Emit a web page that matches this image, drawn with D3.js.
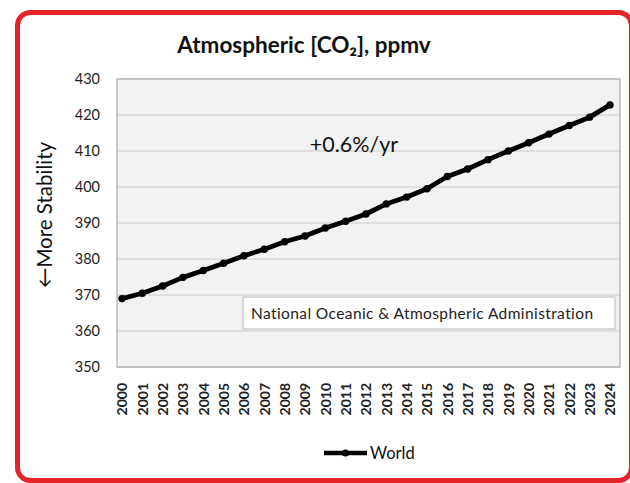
<!DOCTYPE html>
<html>
<head>
<meta charset="utf-8">
<script src="https://cdn.jsdelivr.net/npm/d3@7"></script>
<style>
  body { margin: 0; background: #fff; }
  svg { display: block; font-family: Lato, "Open Sans", sans-serif; }
</style>
</head>
<body>
<svg width="630" height="483"></svg>
<script>
// data (annual global mean CO2, ppmv)
const years = ['2000','2001','2002','2003','2004','2005','2006','2007','2008','2009','2010','2011','2012',
               '2013','2014','2015','2016','2017','2018','2019','2020','2021','2022','2023','2024'];
const world = [369.0, 370.5, 372.5, 374.9, 376.8, 378.8, 380.9, 382.7, 384.8, 386.4, 388.6, 390.5, 392.5,
               395.3, 397.2, 399.5, 402.9, 405.0, 407.6, 410.0, 412.3, 414.7, 417.1, 419.4, 422.8];
const yTicks = [350, 360, 370, 380, 390, 400, 410, 420, 430];

const svg = d3.select('svg');

// red frame
svg.append('rect')
    .attr('x', 17.5).attr('y', 12.5)
    .attr('width', 614).attr('height', 468)
    .attr('rx', 13)
    .attr('fill', '#fff')
    .attr('stroke', '#e3242b')
    .attr('stroke-width', 5);

const plot = { left: 117, right: 620, top: 79, bottom: 367 };

const x = d3.scalePoint().domain(years).range([122, 610]);
const y = d3.scaleLinear().domain([350, 430]).range([plot.bottom, plot.top]);

// plot background
svg.append('rect')
    .attr('x', plot.left).attr('y', plot.top)
    .attr('width', plot.right - plot.left).attr('height', plot.bottom - plot.top)
    .attr('fill', '#f2f2f2');

// gridlines
svg.append('g')
    .selectAll('line')
    .data(yTicks)
    .enter().append('line')
    .attr('x1', plot.left).attr('x2', plot.right)
    .attr('y1', d => y(d)).attr('y2', d => y(d))
    .attr('stroke', '#d9d9d9')
    .attr('stroke-width', 1.3);

svg.append('rect')
    .attr('x', plot.left).attr('y', plot.top)
    .attr('width', plot.right - plot.left).attr('height', plot.bottom - plot.top)
    .attr('fill', 'none')
    .attr('stroke', '#b0b0b0')
    .attr('stroke-width', 1.3);

// y axis labels
const yAxis = svg.append('g')
    .attr('transform', `translate(${plot.left},0)`)
    .call(d3.axisLeft(y).tickValues(yTicks).tickSize(0).tickPadding(17));
yAxis.select('.domain').remove();
yAxis.selectAll('text')
    .attr('font-family', 'Lato, sans-serif')
    .attr('font-size', 14.5)
    .attr('fill', '#222');

// x axis labels (rotated)
const xAxis = svg.append('g')
    .attr('transform', `translate(0,${plot.bottom})`)
    .call(d3.axisBottom(x).tickSize(0));
xAxis.select('.domain').remove();
xAxis.selectAll('text')
    .attr('font-family', 'Lato, sans-serif')
    .attr('font-size', 14)
    .attr('font-weight', 'bold')
    .attr('fill', '#222')
    .attr('transform', 'rotate(-90)')
    .attr('text-anchor', 'end')
    .attr('x', -16)
    .attr('y', 0)
    .attr('dy', '0.35em');

// source box
svg.append('rect')
    .attr('x', 243).attr('y', 297)
    .attr('width', 372).attr('height', 32)
    .attr('fill', '#fff')
    .attr('stroke', '#c8c8c8')
    .attr('stroke-width', 1.3);
svg.append('text')
    .attr('x', 251).attr('y', 318.5)
    .attr('font-size', 15.5)
    .attr('letter-spacing', 0.4)
    .attr('fill', '#222')
    .text('National Oceanic & Atmospheric Administration');

// series line
const line = d3.line()
    .x((d, i) => x(years[i]))
    .y(d => y(d));

svg.append('path')
    .datum(world)
    .attr('d', line)
    .attr('fill', 'none')
    .attr('stroke', '#000')
    .attr('stroke-width', 4.8)
    .attr('stroke-linejoin', 'round');

svg.append('g')
    .selectAll('circle')
    .data(world)
    .enter().append('circle')
    .attr('cx', (d, i) => x(years[i]))
    .attr('cy', d => y(d))
    .attr('r', 3.7)
    .attr('fill', '#000');

// annotation
svg.append('text')
    .attr('x', 354).attr('y', 152)
    .attr('text-anchor', 'middle')
    .attr('font-size', 21.5)
    .attr('fill', '#111')
    .text('+0.6%/yr');

// title
const title = svg.append('text')
    .attr('x', 304).attr('y', 53)
    .attr('text-anchor', 'middle')
    .attr('font-size', 22.5)
    .attr('font-weight', 'bold')
    .attr('fill', '#111');
title.append('tspan').text('Atmospheric [CO');
title.append('tspan').text('₂');
title.append('tspan').text('], ppmv');

// y axis title
svg.append('text')
    .attr('transform', 'translate(52,215) rotate(-90)')
    .attr('text-anchor', 'middle')
    .attr('font-size', 20.5)
    .attr('fill', '#111')
    .text('←More Stability');

// legend
const lg = svg.append('g').attr('transform', 'translate(324,453)');
lg.append('line')
    .attr('x1', 0).attr('x2', 43)
    .attr('stroke', '#000')
    .attr('stroke-width', 4.5);
lg.append('circle')
    .attr('cx', 21.5).attr('r', 3.6)
    .attr('fill', '#000');
lg.append('text')
    .attr('x', 46).attr('y', 6)
    .attr('font-size', 16.5)
    .attr('fill', '#111')
    .text('World');
</script>
</body>
</html>
